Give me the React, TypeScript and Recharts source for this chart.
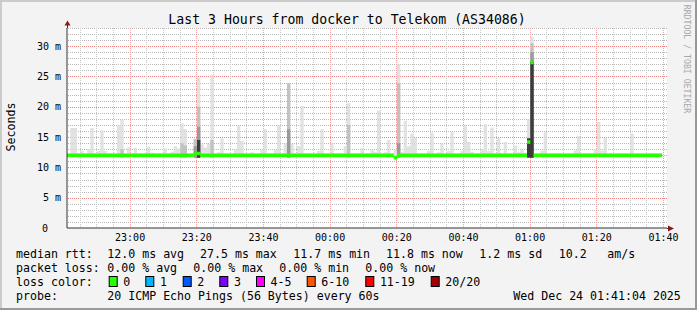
import { ComposedChart, Area, XAxis, YAxis, CartesianGrid } from "recharts";

const MONO = "'DejaVu Sans Mono', monospace";

// time axis: graph starts 3 hours before 01:41:04
const START = "22:41:04";
const xTickLabels = ["23:00", "23:20", "23:40", "00:00", "00:20", "00:40", "01:00", "01:20", "01:40"];
const yTicks = [0, 5, 10, 15, 20, 25, 30];
const Y_MAX = 33;
const X_SPAN = 180;

// plot box
const PL = 67;
const PT = 28;
const PW = 600;
const PH = 200;

// smoke: lowest ping of each minute and highest ping (ms)
const smokeFloor = 11.6;
const smokeMax = [
  12.3, 16.5, 16.5, 12.3, 12.7, 12.3, 13.0, 16.5, 12.3, 12.7,
  16.1, 12.7, 12.3, 12.3, 12.3, 17.0, 17.9, 12.3, 13.3, 12.3,
  13.2, 12.3, 12.3, 12.4, 13.4, 12.4, 12.3, 12.3, 12.3, 13.1,
  12.3, 12.6, 13.5, 13.1, 17.3, 16.3, 12.3, 12.3, 14.7, 24.8,
  13.8, 13.3, 14.0, 25.3, 12.3, 12.5, 14.8, 12.3, 12.3, 12.3,
  13.0, 16.9, 14.4, 12.3, 12.3, 12.5, 12.3, 12.3, 13.0, 16.3,
  12.3, 12.3, 12.9, 17.0, 12.3, 14.0, 23.9, 13.9, 12.3, 13.5,
  20.1, 12.3, 12.3, 12.3, 12.3, 12.7, 16.3, 12.3, 12.3, 14.0,
  12.3, 12.3, 12.3, 13.5, 20.6, 12.3, 12.3, 12.3, 13.2, 12.3,
  12.3, 13.0, 12.6, 19.4, 12.3, 12.5, 14.5, 12.3, 12.9, 27.0,
  12.6, 17.7, 13.5, 15.6, 14.9, 12.3, 12.3, 12.3, 12.7, 15.7,
  12.3, 12.5, 14.0, 12.3, 12.7, 15.9, 12.3, 12.3, 12.7, 16.8,
  14.2, 12.6, 12.3, 12.3, 13.0, 17.1, 12.7, 16.6, 12.3, 14.9,
  12.3, 14.2, 12.3, 12.3, 13.6, 12.5, 13.1, 12.4, 18.0, 31.5,
  12.3, 12.3, 12.8, 15.8, 12.3, 12.3, 12.3, 12.3, 12.3, 12.3,
  12.3, 12.3, 12.8, 15.2, 12.3, 12.3, 12.3, 12.3, 13.0, 17.5,
  12.8, 14.9, 12.3, 12.3, 12.3, 12.3, 12.3, 12.3, 12.3, 15.6,
  12.3, 12.3, 12.3, 12.3, 12.3, 12.3, 12.3, 12.3, 12.3,
];

// denser smoke bands, [minute index, top of band]
const smokeMid: [number, number][] = [
  [16, 13.0], [34, 14.0], [35, 13.6], [38, 14.7], [39, 20.0], [43, 14.5],
  [66, 23.9], [84, 17.0], [99, 23.9], [139, 30.5],
];
const smokeDark: [number, number][] = [
  [38, 13.5], [39, 16.7], [66, 16.3], [99, 14.0], [139, 29.0],
];
const smokeBlack: [number, number][] = [[39, 14.5], [138, 14.8], [139, 27.5]];

// median rtt per minute (ms)
const medianRtt = [
  12.0, 12.0, 12.0, 12.0, 12.0, 12.0, 12.0, 12.0, 12.0, 12.0,
  12.0, 12.0, 12.0, 12.0, 12.0, 12.0, 12.0, 12.0, 12.0, 12.0,
  12.0, 12.0, 12.0, 12.0, 12.0, 12.0, 12.0, 12.0, 12.0, 12.0,
  12.0, 12.0, 12.0, 12.0, 12.0, 12.0, 12.0, 12.0, 12.2, 12.3,
  12.0, 12.0, 12.0, 12.0, 12.0, 12.0, 12.0, 12.0, 12.0, 12.0,
  12.0, 12.0, 12.0, 12.0, 12.0, 12.0, 12.0, 12.0, 12.0, 12.0,
  12.0, 12.0, 12.0, 12.0, 12.0, 12.0, 12.0, 12.0, 12.0, 12.0,
  12.0, 12.0, 12.0, 12.0, 12.0, 12.0, 12.0, 12.0, 12.0, 12.0,
  12.0, 12.0, 12.0, 12.0, 12.0, 12.0, 12.0, 12.0, 12.0, 12.0,
  12.0, 12.0, 12.0, 12.0, 12.0, 12.0, 12.0, 12.0, 11.6, 12.0,
  12.0, 12.0, 12.0, 12.0, 12.0, 12.0, 12.0, 12.0, 12.0, 12.0,
  12.0, 12.0, 12.0, 12.0, 12.0, 12.0, 12.0, 12.0, 12.0, 12.0,
  12.0, 12.0, 12.0, 12.0, 12.0, 12.0, 12.0, 12.0, 12.0, 12.0,
  12.0, 12.0, 12.0, 12.0, 12.0, 12.0, 12.0, 12.0, 14.2, 27.3,
  12.0, 12.0, 12.0, 12.0, 12.0, 12.0, 12.0, 12.0, 12.0, 12.0,
  12.0, 12.0, 12.0, 12.0, 12.0, 12.0, 12.0, 12.0, 12.0, 12.0,
  12.0, 12.0, 12.0, 12.0, 12.0, 12.0, 12.0, 12.0, 12.0, 12.0,
  12.0, 12.0, 12.0, 12.0, 12.0, 12.0, 12.0, 12.0, 12.0,
];

const lossLabels = ["0", "1", "2", "3", "4-5", "6-10", "11-19", "20/20"];
const lossColors = ["#26ff00", "#00b8ff", "#0059ff", "#7e00ff", "#ff00ff", "#ff5500", "#ff0000", "#a10000"];

const rttStats = ["12.0 ms avg", "27.5 ms max", "11.7 ms min", "11.8 ms now", "1.2 ms sd", "10.2", "am/s"];
const lossStats = ["0.00 % avg", "0.00 % max", "0.00 % min", "0.00 % now"];

const toMin = (s: string) => {
  const [h, m, sec = 0] = s.split(":").map(Number);
  let v = h * 60 + m + sec / 60;
  if (h < 12) v += 1440;
  return v;
};
const t0 = toMin(START);
const xTickVals = xTickLabels.map((l) => toMin(l) - t0);
const minorX: number[] = [];
for (let m = Math.ceil(t0 / 5) * 5; m - t0 <= X_SPAN; m += 5) {
  if (m % 20 !== 0) minorX.push(m - t0);
}
const minorY: number[] = [];
for (let v = 1; v <= Y_MAX; v++) if (v % 5 !== 0) minorY.push(v);
const majorY = yTicks.filter((v) => v > 0);

const pick = (pairs: [number, number][], i: number) => {
  const p = pairs.find((q) => q[0] === i);
  return p ? p[1] : smokeFloor;
};

const rows: any[] = smokeMax.map((mx, i) => ({
  t: i,
  l1: [smokeFloor, mx],
  l2: [smokeFloor, pick(smokeMid, i)],
  l3: [smokeFloor, pick(smokeDark, i)],
  l4: [smokeFloor, pick(smokeBlack, i)],
  med: [medianRtt[i] - 0.28, medianRtt[i] + 0.28],
}));
rows.push({ ...rows[rows.length - 1], t: rows.length - 0.5 });

// grid coordinates, snapped to whole pixels
const gridY = (v: number) => Math.round(PT + PH * (1 - v / Y_MAX));
const xCoords = (vals: number[]) => (p: any) => {
  const o = (p && p.offset) || {};
  const left = o.left ?? PL;
  const width = o.width ?? PW;
  return vals.map((v) => Math.floor(left + (width * v) / X_SPAN) + 0.5);
};

// a dotted horizontal line made of 1px squares
const DotRow = ({ y, color }: { y: number; color: string }) => {
  const dots: any[] = [];
  for (let x = PL + 1; x < PL + PW; x += 2) dots.push(<rect key={x} x={x} y={y} width={1} height={1} fill={color} />);
  return <g>{dots}</g>;
};

const XTick = (props: any) => {
  const { x, payload } = props;
  const i = xTickVals.indexOf(payload.value);
  return (
    <text x={x} y={241} textAnchor="middle" fontFamily={MONO} fontSize={10} fill="#000">
      {xTickLabels[i]}
    </text>
  );
};

const YTick = (props: any) => {
  const { y, payload } = props;
  const v = payload.value;
  return (
    <text x={v === 0 ? 48 : 61} y={y + 3.5} textAnchor="end" fontFamily={MONO} fontSize={10} fill="#000">
      {v === 0 ? "0" : `${v} m`}
    </text>
  );
};

const rttX = [107.3, 200, 293.3, 386, 479.3, 558.7, 607.3];
const lossX = [107.3, 193.3, 279.3, 365.3];
const boxX = [108.7, 145.3, 182.7, 219.3, 256, 306.7, 365.3, 430.7];

const App = () => {
  const txt = { fontFamily: MONO, fontSize: 11.6, fill: "#000" };
  return (
    <div style={{ position: "absolute", left: 0, top: 0, width: 697, height: 310, background: "#f3f3f3" }}>
      <svg width={697} height={310} style={{ position: "absolute", left: 0, top: 0 }}>
        <rect x={PL} y={PT} width={PW} height={PH} fill="#ffffff" />
        {minorY.map((v) => (
          <DotRow key={"hy" + v} y={gridY(v)} color="#b8b8b8" />
        ))}
        {majorY.map((v) => (
          <DotRow key={"Hy" + v} y={gridY(v)} color="#f08080" />
        ))}
      </svg>
      <div style={{ position: "absolute", left: 0, top: 0 }}>
        <ComposedChart width={697} height={310} data={rows} margin={{ top: PT, right: 697 - PL - PW, bottom: 0, left: 0 }}>
          <XAxis
            type="number"
            dataKey="t"
            domain={[0, X_SPAN]}
            ticks={xTickVals}
            interval={0}
            height={310 - PT - PH}
            tick={XTick}
            tickLine={false}
            axisLine={{ stroke: "#333" }}
            allowDataOverflow
          />
          <YAxis
            type="number"
            domain={[0, Y_MAX]}
            ticks={yTicks}
            interval={0}
            width={PL}
            tick={YTick}
            tickLine={false}
            axisLine={{ stroke: "#333" }}
            allowDataOverflow
          />
          <Area type="stepAfter" dataKey="l1" stroke="none" fill="#dddddd" fillOpacity={0.85} dot={false} activeDot={false} isAnimationActive={false} />
          <Area type="stepAfter" dataKey="l2" stroke="none" fill="#c2c2c2" fillOpacity={1} dot={false} activeDot={false} isAnimationActive={false} />
          <Area type="stepAfter" dataKey="l3" stroke="none" fill="#9a9a9a" fillOpacity={1} dot={false} activeDot={false} isAnimationActive={false} />
          <Area type="stepAfter" dataKey="l4" stroke="none" fill="#3c3c3c" fillOpacity={1} dot={false} activeDot={false} isAnimationActive={false} />
          <CartesianGrid
            horizontal={false}
            verticalCoordinatesGenerator={xCoords(minorX)}
            stroke="#c8c8c8"
            strokeDasharray="1 1"
          />
          <CartesianGrid
            horizontal={false}
            verticalCoordinatesGenerator={xCoords(xTickVals)}
            stroke="#f4a0a0"
            strokeDasharray="1 1"
          />
          <Area type="stepAfter" dataKey="med" stroke="none" fill="#26ff00" fillOpacity={1} dot={false} activeDot={false} isAnimationActive={false} />
        </ComposedChart>
      </div>
      <svg width={697} height={310} style={{ position: "absolute", left: 0, top: 0, pointerEvents: "none" }}>
        <rect x={0} y={0} width={697} height={2} fill="#cbcbcb" />
        <rect x={0} y={0} width={2} height={310} fill="#cbcbcb" />
        <rect x={695} y={0} width={2} height={310} fill="#999999" />
        <rect x={0} y={308} width={697} height={2} fill="#999999" />
        <text x={347} y={23.5} textAnchor="middle" fontFamily={MONO} fontSize={13.2} fill="#000">
          Last 3 Hours from docker to Telekom (AS34086)
        </text>
        <text x={11} y={127} textAnchor="middle" dominantBaseline="central" transform="rotate(-90 11 127)" {...txt}>
          Seconds
        </text>
        <text x={686.5} y={59} textAnchor="middle" dominantBaseline="central" transform="rotate(90 686.5 59)" fontFamily={MONO} fontSize={8.2} fill="#a8a8a8">
          RRDTOOL / TOBI OETIKER
        </text>
        <line x1={67.5} y1={22} x2={67.5} y2={28} stroke="#333" />
        <polygon points="64.5,25.5 70.5,25.5 67.5,20.5" fill="#8b1a1a" />
        <line x1={667} y1={228.5} x2={669} y2={228.5} stroke="#333" />
        <polygon points="668,225.5 668,231.5 674,228.5" fill="#8b1a1a" />

        <text x={16} y={258} {...txt}>median rtt:</text>
        {rttStats.map((s, i) => (
          <text key={"r" + i} x={rttX[i]} y={258} {...txt}>{s}</text>
        ))}
        <text x={16} y={272} {...txt}>packet loss:</text>
        {lossStats.map((s, i) => (
          <text key={"l" + i} x={lossX[i]} y={272} {...txt}>{s}</text>
        ))}
        <text x={16} y={286} {...txt}>loss color:</text>
        {lossLabels.map((s, i) => (
          <g key={"c" + i}>
            <rect x={boxX[i] + 0.5} y={276.5} width={8} height={10} fill={lossColors[i]} stroke="#000" />
            <text x={boxX[i] + 14.6} y={286} {...txt}>{s}</text>
          </g>
        ))}
        <text x={16} y={300} {...txt}>probe:</text>
        <text x={107.3} y={300} {...txt}>20 ICMP Echo Pings (56 Bytes) every 60s</text>
        <text x={513.3} y={300} {...txt}>Wed Dec 24 01:41:04 2025</text>
      </svg>
    </div>
  );
};

export default App;
